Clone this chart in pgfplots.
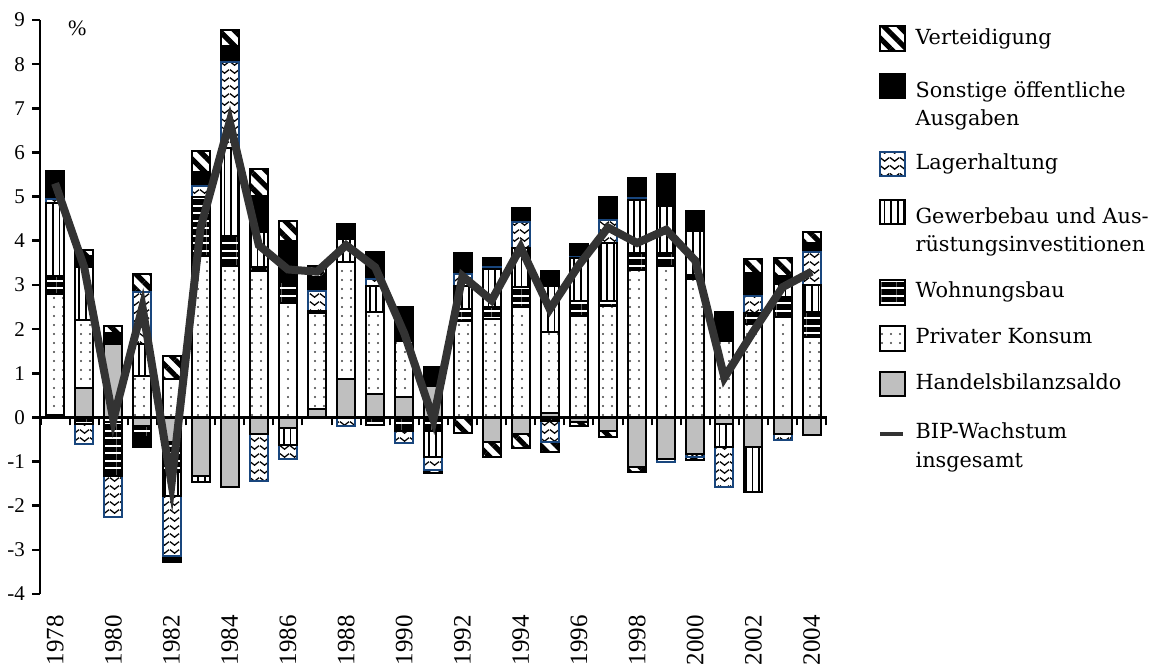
\documentclass[border=0pt]{standalone}
\usepackage{fontspec}
\setmainfont{Liberation Serif}
\newfontfamily\legfont{DejaVu Serif}
\usepackage{pgfplots}
\usepackage{pgfplotstable}
\pgfplotsset{compat=1.18}
\usetikzlibrary{patterns.meta}

\definecolor{hbgray}{RGB}{191,191,191}
\definecolor{lagerblue}{RGB}{25,70,125}
\definecolor{bipgray}{RGB}{51,51,51}

% wavy pattern for Lagerhaltung
\tikzdeclarepattern{
  name=zigzag,
  type=uncolored,
  bounding box={(0pt,0pt) and (5pt,4pt)},
  tile size={(5pt,4pt)},
  code={\draw[line width=0.7pt] (0pt,3pt) -- (2.5pt,1pt) -- (5pt,3pt);}
}

\tikzset{
  seg/.style={draw=black, line width=1pt},
  hbst/.style={seg, fill=hbgray},
  pkst/.style={seg, pattern={Dots[radius=0.55pt, distance=4.5pt, angle=0]}, pattern color=black!75},
  wohnst/.style={seg, pattern={Lines[angle=0, distance=3.75pt, line width=2.7pt]}},
  gewst/.style={seg, pattern={Lines[angle=90, distance=3.3pt, line width=0.9pt]}},
  lagerst/.style={seg, draw=lagerblue, pattern=zigzag, pattern color=black},
  sonstst/.style={seg, fill=black},
  vertst/.style={seg, pattern={Lines[angle=-45, distance=5.5pt, line width=2.6pt]}},
}

\pgfplotsset{
  frame/.style={scale only axis, width=393.4pt, height=287pt,
    xmin=1977.48, xmax=2004.52, ymin=-4, ymax=9,
    at={(20pt,36.5pt)}, anchor=south west},
}

% legend swatch: style, bottom, top, room above, room below
\newcommand\legsq[5]{\addlegendimage{legend image code/.code={%
  \draw[#1] (0pt,#2) rectangle (12.3pt,#3); \path (0pt,#4) (0pt,-#5);}}}
\newcommand\lst{\rule[-2.5pt]{0pt}{10.5pt}}

% positive contributions (percentage points) and GDP growth
\pgfplotstableread{
year hb   pk   wohn gew  lager sonst vert bip
1978 0.05 2.74 0.42 1.64 0.09 0.63 0    5.3
1979 0.66 1.55 0    1.19 0    0.26 0.14 3.4
1980 1.66 0    0    0    0    0.25 0.17 -0.05
1981 0    0.93 0    0.73 1.17 0    0.42 2.5
1982 0    0.87 0    0    0    0    0.51 -1.5
1983 0    3.66 1.32 0    0.25 0.32 0.49 4.3
1984 0    3.43 0.67 1.99 1.95 0.37 0.36 6.7
1985 0    3.32 0.08 0.79 0    0.83 0.60 3.9
1986 0    2.60 0.46 0    0    0.94 0.45 3.35
1987 0.18 2.18 0.06 0    0.45 0.30 0.25 3.3
1988 0.87 2.64 0    0.53 0    0.34 0    3.9
1989 0.53 1.85 0    0.60 0.15 0.62 0    3.4
1990 0.46 1.28 0    0    0    0.75 0    1.9
1991 0.70 0    0    0    0    0.44 0    -0.05
1992 0    2.19 0.26 0.52 0.28 0.47 0    3.2
1993 0    2.23 0.26 0.86 0.05 0.22 0    2.65
1994 0    2.49 0.46 0.88 0.60 0.32 0    3.85
1995 0.10 1.84 0    1.04 0    0.34 0    2.45
1996 0    2.30 0.34 0.96 0.04 0.29 0    3.45
1997 0    2.52 0.12 1.30 0.53 0.51 0    4.3
1998 0    3.34 0.38 1.21 0.03 0.47 0    3.95
1999 0    3.42 0.30 1.07 0    0.72 0    4.25
2000 0    3.13 0.09 1.01 0    0.45 0    3.55
2001 0    1.72 0    0    0    0.66 0    0.9
2002 0    2.12 0.24 0    0.40 0.51 0.32 1.95
2003 0    2.27 0.45 0.30 0    0.19 0.39 2.95
2004 0    1.81 0.57 0.62 0.74 0.21 0.24 3.3
}\postab

% negative contributions
\pgfplotstableread{
year hb    pk    wohn  gew   lager sonst vert
1978 0     0     0     0     0     0     0
1979 0     0     -0.15 0     -0.45 0     0
1980 0     -0.10 -1.22 0     -0.94 0     0
1981 -0.20 0     -0.25 0     0     -0.22 0
1982 -0.56 0     -0.68 -0.54 -1.35 -0.14 0
1983 -1.32 0     0     -0.15 0     0     0
1984 -1.57 0     0     0     0     0     0
1985 -0.37 0     0     0     -1.08 0     0
1986 -0.25 0     0     -0.37 -0.32 0     0
1987 0     0     0     0     0     0     0
1988 0     0     0     0     -0.20 0     0
1989 0     0     -0.17 0     0     0     0
1990 0     0     -0.30 0     -0.27 0     0
1991 0     0     -0.30 -0.60 -0.30 0     -0.05
1992 0     0     0     0     0     0     -0.35
1993 -0.56 0     0     0     0     0     -0.34
1994 -0.37 0     0     0     0     0     -0.33
1995 0     0     -0.08 0     -0.47 0     -0.24
1996 -0.10 0     0     0     0     0     -0.10
1997 -0.30 0     0     0     0     0     -0.15
1998 -1.13 0     0     0     0     0     -0.10
1999 -0.94 0     0     0     -0.06 0     0
2000 -0.83 0     0     0     -0.07 0     -0.06
2001 -0.15 0     0     -0.52 -0.91 0     0
2002 -0.67 0     0     -1.02 0     0     0
2003 -0.37 0     0     0     -0.15 0     0
2004 -0.40 0     0     0     0     0     0
}\negtab

\begin{document}
\begin{tikzpicture}

% negative stacks, y axis and year labels
\begin{axis}[frame, ybar stacked, bar width=9pt,
  axis y line*=left, axis x line*=bottom,
  x axis line style={draw=none},
  y axis line style={-, line width=1.3pt},
  xtick={1978,1980,...,2004}, xtick style={draw=none},
  xticklabel style={rotate=90, anchor=east, font=\fontsize{12.5}{14}\selectfont},
  xticklabel shift=3pt,
  ytick={-4,-3,...,9}, ytick pos=left,
  ytick style={line width=1.3pt, black},
  yticklabel style={font=\fontsize{10.5}{12}\selectfont},
  tick align=outside, major tick length=4pt,
  /pgf/number format/1000 sep={},
  /pgf/number format/assume math mode=true]
\addplot[hbst] table[x=year, y=hb] {\negtab};
\addplot[pkst] table[x=year, y=pk] {\negtab};
\addplot[wohnst] table[x=year, y=wohn] {\negtab};
\addplot[gewst] table[x=year, y=gew] {\negtab};
\addplot[lagerst] table[x=year, y=lager] {\negtab};
\addplot[sonstst] table[x=year, y=sonst] {\negtab};
\addplot[vertst] table[x=year, y=vert] {\negtab};
\end{axis}

% positive stacks and the zero line
\begin{axis}[frame, ybar stacked, bar width=9pt,
  axis x line=middle, axis y line=none, axis on top,
  x axis line style={-, line width=1.4pt},
  xtick={1977.5,1978.5,...,2004.5}, xticklabels={},
  xtick style={line width=1pt, black},
  tick align=outside, major tick length=4pt, ytick=\empty]
\addplot[hbst] table[x=year, y=hb] {\postab};
\addplot[pkst] table[x=year, y=pk] {\postab};
\addplot[wohnst] table[x=year, y=wohn] {\postab};
\addplot[gewst] table[x=year, y=gew] {\postab};
\addplot[lagerst] table[x=year, y=lager] {\postab};
\addplot[sonstst] table[x=year, y=sonst] {\postab};
\addplot[vertst] table[x=year, y=vert] {\postab};
\end{axis}

% GDP line, legend, unit
\begin{axis}[frame, hide axis,
  legend cell align=left,
  legend style={at={(1,1)}, anchor=north west, xshift=24.6pt, yshift=2.1pt,
    draw=none, fill=none, inner sep=0pt, outer sep=0pt,
    row sep=0pt, column sep=5pt,
    nodes={inner sep=0pt, text depth={}, align=left,
      font=\legfont\fontsize{10.4}{14.2}\selectfont}}]
\legsq{vertst}{-6.15pt}{6.15pt}{11.25pt}{11.25pt}
\addlegendentry{\lst Verteidigung}
\legsq{sonstst}{3.7pt}{16pt}{21.85pt}{17.4pt}
\addlegendentry{\lst Sonstige öffentliche\\\lst Ausgaben}
\legsq{lagerst}{-6.15pt}{6.15pt}{11.25pt}{11.25pt}
\addlegendentry{\lst Lagerhaltung}
\legsq{gewst}{3.7pt}{16pt}{22.35pt}{18.65pt}
\addlegendentry{\lst Gewerbebau und Aus-\\\lst rüstungsinvestitionen}
\legsq{wohnst}{-6.15pt}{6.15pt}{11.25pt}{11.25pt}
\addlegendentry{\lst Wohnungsbau}
\legsq{pkst}{-6.15pt}{6.15pt}{11.25pt}{11.25pt}
\addlegendentry{\lst Privater Konsum}
\legsq{hbst}{-6.15pt}{6.15pt}{11.25pt}{11.25pt}
\addlegendentry{\lst Handelsbilanzsaldo}
\addplot[draw=bipgray, line width=4pt, sharp plot,
  legend image code/.code={\draw[bipgray, line width=2pt] (0pt,6.85pt) -- (11.7pt,6.85pt);
    \path (0pt,18.35pt) (0pt,-12.35pt);}]
  table[x=year, y=bip] {\postab};
\addlegendentry{\lst BIP-Wachstum\\\lst insgesamt}
\node[font=\fontsize{11}{12}\selectfont] at (axis cs:1978.76,8.81) {\%};
\end{axis}

\pgfresetboundingbox
\path[use as bounding box] (0,0) rectangle (575pt,333.5pt);
\end{tikzpicture}
\end{document}
